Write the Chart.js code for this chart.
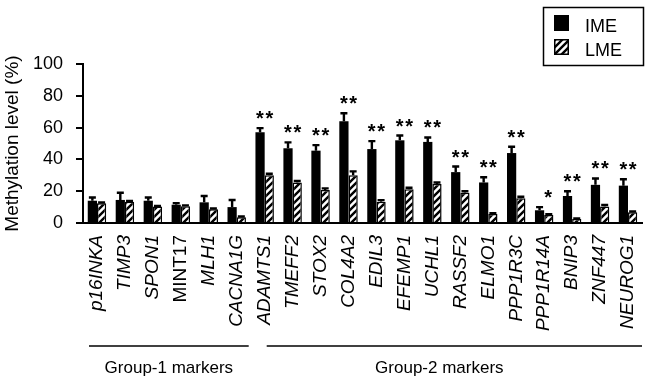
<!DOCTYPE html>
<html lang="en">

<head>
    <meta charset="UTF-8">
    <title>Methylation level</title>
    <script src="https://cdn.jsdelivr.net/npm/chart.js"></script>
    <style>
        body { margin: 0; background: #fff; }
    </style>
</head>

<body>
    <canvas id="methChart" width="650" height="382"></canvas>
    <script>
        // marker genes
        const genes = ['p16INKA', 'TIMP3', 'SPON1', 'MINT17', 'MLH1', 'CACNA1G',
            'ADAMTS1', 'TMEFF2', 'STOX2', 'COL4A2', 'EDIL3', 'EFEMP1', 'UCHL1', 'RASSF2',
            'ELMO1', 'PPP1R3C', 'PPP1R14A', 'BNIP3', 'ZNF447', 'NEUROG1'];
        const imeValues = [14, 14.5, 14, 11.5, 13, 10, 57, 47, 45.5, 64, 46.5, 52, 51, 32, 25.5, 44, 8, 17, 24, 23.5];
        const imeErrors = [2, 4.5, 2, 1, 4, 4.5, 2.7, 3.7, 3.5, 5, 5, 3, 2.8, 3.5, 3.3, 4, 2, 3, 4, 4];
        const lmeValues = [12.4, 13.4, 10.3, 10.6, 8.6, 3.6, 30, 25.4, 20.8, 30, 13.4, 21.2, 24.5, 19, 5.7, 15.5, 5, 2.5, 10.3, 6.7];
        const lmeErrors = [0.5, 0.5, 0.5, 0.5, 0.5, 0.5, 1, 1, 1, 2.5, 1, 1, 1, 1, 0.5, 1, 0.5, 0.3, 1, 0.5];
        const significance = ['', '', '', '', '', '', '**', '**', '**', '**', '**', '**', '**', '**', '**', '**', '*', '**', '**', '**'];
        const groups = [
            { name: 'Group-1 markers', from: 0, to: 5 },
            { name: 'Group-2 markers', from: 6, to: 19 }
        ];
        const yTicks = [0, 20, 40, 60, 80, 100];

        const FONT = "'Liberation Sans', Arial, sans-serif";

        // diagonal hatch for LME bars
        function makeHatch() {
            const c = document.createElement('canvas');
            c.width = 7; c.height = 7;
            const g = c.getContext('2d');
            g.fillStyle = '#fff';
            g.fillRect(0, 0, 7, 7);
            g.strokeStyle = '#000';
            g.lineWidth = 2.4;
            g.beginPath();
            g.moveTo(-1, 8); g.lineTo(8, -1);
            g.moveTo(-4, 4); g.lineTo(4, -4);
            g.moveTo(3, 11); g.lineTo(11, 3);
            g.stroke();
            return g.createPattern(c, 'repeat');
        }
        const hatch = makeHatch();

        // error bars, asterisks, legend and group brackets
        const extrasPlugin = {
            id: 'extras',
            afterDatasetsDraw(chart) {
                const ctx = chart.ctx;
                const yScale = chart.scales.y;
                const xScale = chart.scales.x;
                const errs = [imeErrors, lmeErrors];
                ctx.save();
                ctx.strokeStyle = '#000';
                ctx.lineWidth = 2.4;
                const tops = [];
                chart.data.datasets.forEach((ds, di) => {
                    chart.getDatasetMeta(di).data.forEach((bar, i) => {
                        const yTop = yScale.getPixelForValue(ds.data[i] + errs[di][i]);
                        ctx.beginPath();
                        ctx.moveTo(bar.x, bar.y);
                        ctx.lineTo(bar.x, yTop);
                        ctx.moveTo(bar.x - 3.5, yTop);
                        ctx.lineTo(bar.x + 3.5, yTop);
                        ctx.stroke();
                        tops[i] = Math.min(tops[i] === undefined ? Infinity : tops[i], yTop);
                    });
                });

                // asterisks
                ctx.fillStyle = '#000';
                ctx.font = 'bold 20px ' + FONT;
                ctx.textAlign = 'center';
                ctx.textBaseline = 'alphabetic';
                significance.forEach((s, i) => {
                    if (!s) return;
                    const x = xScale.getPixelForValue(i) + (s.length === 1 ? 4 : 0);
                    const txt = s.split('').join('\u200a');
                    ctx.fillText(txt, x, tops[i] - 3);
                });

                // legend
                ctx.lineWidth = 1.5;
                ctx.strokeRect(543.5, 7.5, 100, 58);
                ctx.font = '18px ' + FONT;
                ctx.textAlign = 'left';
                chart.data.datasets.forEach((ds, di) => {
                    const y = 15 + di * 24;
                    ctx.fillStyle = ds.backgroundColor;
                    ctx.fillRect(554, y, 15, 16);
                    ctx.lineWidth = 1.5;
                    ctx.strokeRect(554.75, y + 0.75, 13.5, 14.5);
                    ctx.fillStyle = '#000';
                    ctx.fillText(ds.label, 585, y + 17);
                });

                // group brackets
                const step = xScale.getPixelForValue(1) - xScale.getPixelForValue(0);
                ctx.lineWidth = 1.5;
                ctx.textAlign = 'center';
                ctx.textBaseline = 'middle';
                ctx.font = '17px ' + FONT;
                groups.forEach((g, gi) => {
                    const x1 = xScale.getPixelForValue(g.from) - step / 2 + (gi === 0 ? 6 : 16);
                    const x2 = xScale.getPixelForValue(g.to) + step / 2 - (gi === 0 ? 2 : 0);
                    ctx.beginPath();
                    ctx.moveTo(x1, 346);
                    ctx.lineTo(x2, 346);
                    ctx.stroke();
                    ctx.fillText(g.name, (x1 + x2) / 2 + (gi === 0 ? 0 : -15), 368);
                });
                ctx.restore();
            }
        };

        new Chart(document.getElementById('methChart'), {
            type: 'bar',
            data: {
                labels: genes,
                datasets: [{
                    label: 'IME',
                    data: imeValues,
                    backgroundColor: '#000',
                    borderColor: '#000',
                    borderWidth: 0,
                    categoryPercentage: 0.66,
                    barPercentage: 1.0
                }, {
                    label: 'LME',
                    data: lmeValues,
                    backgroundColor: hatch,
                    borderColor: '#000',
                    borderWidth: 1.5,
                    borderSkipped: 'bottom',
                    categoryPercentage: 0.66,
                    barPercentage: 1.0
                }]
            },
            options: {
                responsive: false,
                animation: false,
                devicePixelRatio: 1,
                layout: { padding: { top: 64, right: 8, left: 0, bottom: 0 } },
                plugins: {
                    legend: { display: false },
                    tooltip: { enabled: false }
                },
                scales: {
                    x: {
                        grid: { display: false, drawTicks: false },
                        border: { display: true, color: '#000', width: 2 },
                        ticks: {
                            color: '#000',
                            minRotation: 90,
                            maxRotation: 90,
                            padding: 12,
                            autoSkip: false,
                            font: (c) => ({
                                family: FONT,
                                size: 19,
                                style: genes[c.index] === 'MINT17' ? 'normal' : 'italic'
                            })
                        },
                        afterFit: (scale) => {
                            scale.height = 159;
                            scale.paddingLeft = 0;
                            scale.paddingRight = 0;
                        }
                    },
                    y: {
                        min: 0,
                        max: 100,
                        afterBuildTicks: (scale) => { scale.ticks = yTicks.map(v => ({ value: v })); },
                        grid: {
                            display: true,
                            drawOnChartArea: false,
                            drawTicks: true,
                            tickLength: 7,
                            lineWidth: 2,
                            color: '#000'
                        },
                        border: { display: true, color: '#000', width: 2 },
                        ticks: {
                            color: '#000',
                            padding: 13,
                            font: { family: FONT, size: 18 }
                        },
                        title: {
                            display: true,
                            text: 'Methylation level (%)',
                            color: '#000',
                            font: { family: FONT, size: 19 },
                            padding: { top: 1, bottom: 0 }
                        },
                        afterFit: (scale) => {
                            scale.width = 83;
                            scale.paddingTop = 0;
                            scale.paddingBottom = 0;
                        }
                    }
                }
            },
            plugins: [extrasPlugin]
        });
    </script>
</body>

</html>
